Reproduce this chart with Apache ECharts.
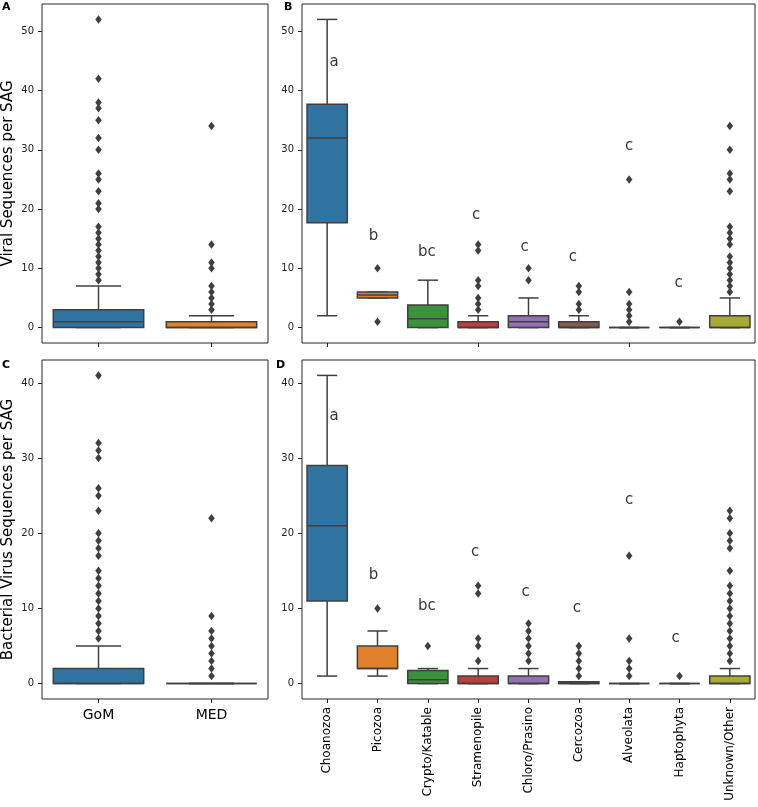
<!DOCTYPE html>
<html><head><meta charset="utf-8">
<script src="https://cdn.jsdelivr.net/npm/echarts@6/dist/echarts.min.js"></script>
<style>html,body{margin:0;padding:0;background:#fff}#c{width:758px;height:807px}</style>
</head><body><div id="c"></div>
<script>
// ---------- data ----------
const regions = ['GoM', 'MED'];
const taxa = ['Choanozoa', 'Picozoa', 'Crypto/Katable', 'Stramenopile', 'Chloro/Prasino', 'Cercozoa', 'Alveolata', 'Haptophyta', 'Unknown/Other'];
const yTicksViral = [0, 10, 20, 30, 40, 50];
const yTicksBact = [0, 10, 20, 30, 40];

// each box: [lower whisker, Q1, median, Q3, upper whisker]
const viralRegionBoxes = [[0, 0, 1, 3, 7], [0, 0, 0, 1, 2]];
const viralRegionOutliers = [
  [8, 9, 10, 11, 12, 13, 14, 15, 16, 17, 20, 21, 23, 25, 26, 30, 32, 35, 37, 38, 42, 52],
  [3, 4, 5, 6, 7, 10, 11, 14, 34]
];
const viralTaxaBoxes = [[2, 17.7, 32, 37.7, 52], [5, 5, 5.5, 6, 6], [0, 0, 1.5, 3.8, 8], [0, 0, 0, 1, 2], [0, 0, 1, 2, 5], [0, 0, 0, 1, 2], [0, 0, 0, 0, 0], [0, 0, 0, 0, 0], [0, 0, 0, 2, 5]];
const viralTaxaOutliers = [[], [1, 10], [], [3, 4, 5, 7, 8, 13, 14], [8, 10], [3, 4, 6, 7], [1, 2, 3, 4, 6, 25], [1], [6, 7, 8, 9, 10, 11, 12, 14, 15, 16, 17, 23, 25, 26, 30, 34]];
const viralTaxaLetters = ['a', 'b', 'bc', 'c', 'c', 'c', 'c', 'c', ''];
const viralTaxaLetterY = [44.8, 15.5, 12.75, 19.0, 13.5, 11.85, 30.7, 7.5, null];

const bactRegionBoxes = [[0, 0, 0, 2, 5], [0, 0, 0, 0, 0]];
const bactRegionOutliers = [
  [6, 7, 8, 9, 10, 11, 12, 13, 14, 15, 17, 18, 19, 20, 23, 25, 26, 30, 31, 32, 41],
  [1, 2, 3, 4, 5, 6, 7, 9, 22]
];
const bactTaxaBoxes = [[1, 11, 21, 29, 41], [1, 2, 2, 5, 7], [0, 0, 0.5, 1.75, 2], [0, 0, 0, 1, 2], [0, 0, 0, 1, 2], [0, 0, 0, 0.25, 0.25], [0, 0, 0, 0, 0], [0, 0, 0, 0, 0], [0, 0, 0, 1, 2]];
const bactTaxaOutliers = [[], [10], [5], [3, 5, 6, 12, 13], [3, 4, 5, 6, 7, 8], [1, 2, 3, 4, 5], [1, 2, 3, 6, 17], [1], [3, 4, 5, 6, 7, 8, 9, 10, 11, 12, 13, 15, 18, 19, 20, 22, 23]];
const bactTaxaLetters = ['a', 'b', 'bc', 'c', 'c', 'c', 'c', 'c', ''];
const bactTaxaLetterY = [35.6, 14.4, 10.3, 17.55, 12.2, 10.0, 24.4, 6.0, null];

// ---------- styles ----------
const palette = ['#3274a1', '#e1812c', '#3a923a', '#c03d3e', '#9372b2', '#845b53', '#d684bd', '#7f7f7f', '#a9aa35'];
const EDGE = '#3f3f3f';
const FONT = 'DejaVu Sans';
const letterDxTop = [7, -4, -1, -2, -4, -6, 0, -1, 0];
const letterDxBottom = [7, -4, -1, -3, -3, -2, 0, -4, 0];

function renderBox(params, api) {
  const i = api.value(0);
  const pLo = api.coord([i, api.value(1)]);
  const pQ1 = api.coord([i, api.value(2)]);
  const pMed = api.coord([i, api.value(3)]);
  const pQ3 = api.coord([i, api.value(4)]);
  const pHi = api.coord([i, api.value(5)]);
  const band = api.size([1, 0])[0];
  const w = band * 0.8, cw = w * 0.5, x = pLo[0];
  const ls = { stroke: EDGE, lineWidth: 1.5 };
  return {
    type: 'group', children: [
      { type: 'line', shape: { x1: x, y1: pLo[1], x2: x, y2: pQ1[1] }, style: ls },
      { type: 'line', shape: { x1: x, y1: pQ3[1], x2: x, y2: pHi[1] }, style: ls },
      { type: 'line', shape: { x1: x - cw / 2, y1: pLo[1], x2: x + cw / 2, y2: pLo[1] }, style: ls },
      { type: 'line', shape: { x1: x - cw / 2, y1: pHi[1], x2: x + cw / 2, y2: pHi[1] }, style: ls },
      { type: 'rect', shape: { x: x - w / 2, y: pQ3[1], width: w, height: pQ1[1] - pQ3[1] }, style: { fill: api.visual('color'), stroke: EDGE, lineWidth: 1.5 } },
      { type: 'line', shape: { x1: x - w / 2, y1: pMed[1], x2: x + w / 2, y2: pMed[1] }, style: ls }
    ]
  };
}

function boxSeries(boxes, gi) {
  return {
    type: 'custom', xAxisIndex: gi, yAxisIndex: gi, renderItem: renderBox, z: 2,
    data: boxes.map((b, i) => ({ value: [i].concat(b), itemStyle: { color: palette[i] } }))
  };
}
function outlierSeries(outs, gi) {
  const data = [];
  outs.forEach((arr, i) => arr.forEach(v => data.push([i, v])));
  return {
    type: 'scatter', xAxisIndex: gi, yAxisIndex: gi, z: 3, symbol: 'diamond', symbolSize: [6.5, 8.5],
    itemStyle: { color: EDGE, opacity: 1 }, data: data, silent: true
  };
}
function letterSeries(letters, ys, dx, gi) {
  const data = [];
  letters.forEach((t, i) => {
    if (t) data.push({ name: t, value: [i, ys[i]], label: { offset: [dx[i], 0] } });
  });
  return {
    type: 'scatter', xAxisIndex: gi, yAxisIndex: gi, z: 4, symbolSize: 1,
    itemStyle: { color: 'rgba(0,0,0,0)' },
    label: { show: true, position: 'inside', formatter: p => p.name, fontSize: 15, color: '#000', fontFamily: FONT },
    data: data, silent: true
  };
}

const grids = [
  { left: 42, top: 4, width: 226, height: 339 },
  { left: 302, top: 4, width: 453, height: 339 },
  { left: 42, top: 360, width: 226, height: 339 },
  { left: 302, top: 360, width: 453, height: 339 }
].map(g => Object.assign({ show: true, borderColor: '#262626', borderWidth: 1, backgroundColor: 'transparent', containLabel: false }, g));

function xAx(gi, cats, labelCfg) {
  return {
    type: 'category', gridIndex: gi, data: cats, boundaryGap: true, position: 'bottom',
    axisLine: { show: false, onZero: false },
    axisTick: { show: true, alignWithLabel: true, length: 4, lineStyle: { color: '#262626', width: 1 } },
    axisLabel: labelCfg,
    splitLine: { show: false }
  };
}
function yAx(gi, min, max, ticks) {
  return {
    type: 'value', gridIndex: gi, min: min, max: max, position: 'left',
    axisLine: { show: false, onZero: false },
    axisTick: { show: true, length: 4, customValues: ticks, lineStyle: { color: '#262626', width: 1 } },
    axisLabel: { show: true, customValues: ticks, fontSize: 10, color: '#222', margin: 8, fontFamily: FONT },
    splitLine: { show: false }
  };
}

const option = {
  animation: false,
  backgroundColor: '#fff',
  textStyle: { fontFamily: FONT },
  grid: grids,
  xAxis: [
    xAx(0, regions, { show: false }),
    xAx(1, taxa, { show: false }),
    xAx(2, regions, { show: true, fontSize: 14, color: '#000', margin: 9, fontFamily: FONT }),
    xAx(3, taxa, { show: true, rotate: 90, fontSize: 12, color: '#000', margin: 8, fontFamily: FONT, interval: 0 })
  ],
  yAxis: [
    yAx(0, -2.6, 54.6, yTicksViral),
    yAx(1, -2.6, 54.6, yTicksViral),
    yAx(2, -2.05, 43.05, yTicksBact),
    yAx(3, -2.05, 43.05, yTicksBact)
  ],
  series: [
    boxSeries(viralRegionBoxes, 0), outlierSeries(viralRegionOutliers, 0),
    boxSeries(viralTaxaBoxes, 1), outlierSeries(viralTaxaOutliers, 1), letterSeries(viralTaxaLetters, viralTaxaLetterY, letterDxTop, 1),
    boxSeries(bactRegionBoxes, 2), outlierSeries(bactRegionOutliers, 2),
    boxSeries(bactTaxaBoxes, 3), outlierSeries(bactTaxaOutliers, 3), letterSeries(bactTaxaLetters, bactTaxaLetterY, letterDxBottom, 3)
  ],
  graphic: [
    { type: 'text', x: 2, y: 2, style: { text: 'A', fontSize: 11, fontWeight: 'bold', fontFamily: FONT, fill: '#000', align: 'left', verticalAlign: 'top' } },
    { type: 'text', x: 284, y: 2, style: { text: 'B', fontSize: 11, fontWeight: 'bold', fontFamily: FONT, fill: '#000', align: 'left', verticalAlign: 'top' } },
    { type: 'text', x: 2, y: 360, style: { text: 'C', fontSize: 11, fontWeight: 'bold', fontFamily: FONT, fill: '#000', align: 'left', verticalAlign: 'top' } },
    { type: 'text', x: 276, y: 360, style: { text: 'D', fontSize: 11, fontWeight: 'bold', fontFamily: FONT, fill: '#000', align: 'left', verticalAlign: 'top' } },
    { type: 'text', x: 8, y: 173.5, rotation: Math.PI / 2, style: { text: 'Viral Sequences per SAG', fontSize: 15, fontFamily: FONT, fill: '#000', align: 'center', verticalAlign: 'middle' } },
    { type: 'text', x: 8, y: 529.5, rotation: Math.PI / 2, style: { text: 'Bacterial Virus Sequences per SAG', fontSize: 15, fontFamily: FONT, fill: '#000', align: 'center', verticalAlign: 'middle' } }
  ]
};

const chart = echarts.init(document.getElementById('c'), null, { renderer: 'canvas' });
chart.setOption(option);
</script>
</body></html>
